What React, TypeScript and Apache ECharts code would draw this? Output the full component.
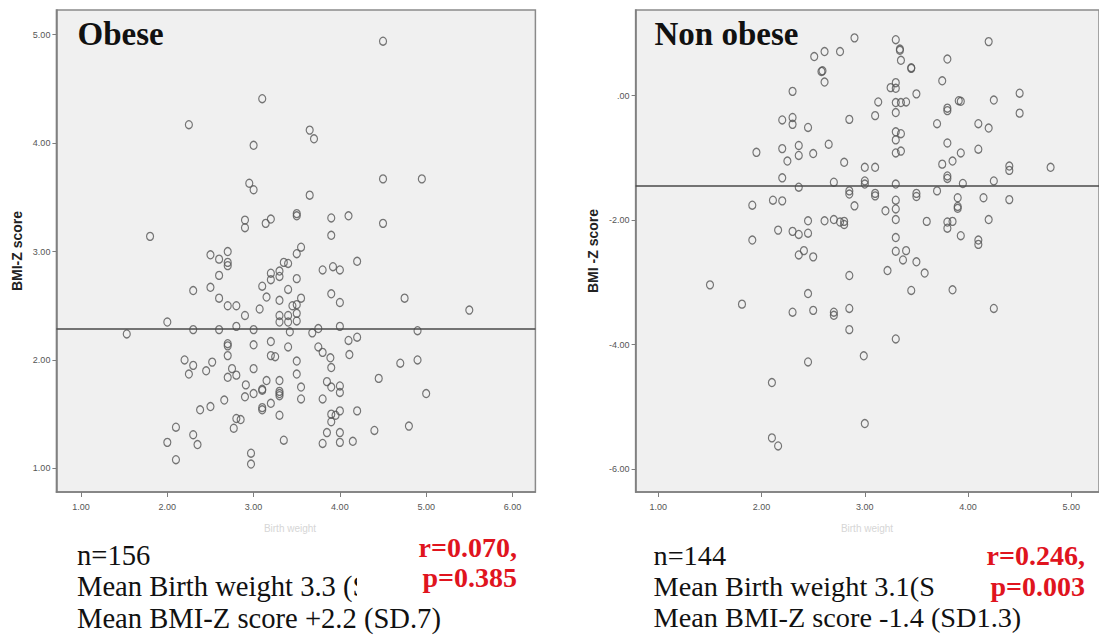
import React, { useEffect, useRef } from "react";
import * as echarts from "echarts";

// ---------- data ----------
const obesePoints: number[][] = [
  [4.50, 4.94], [3.10, 4.41], [2.25, 4.17], [3.65, 4.12], [3.70, 4.04], [3.00, 3.98], [4.50, 3.67], [4.95, 3.67],
  [2.95, 3.63], [3.00, 3.57], [3.65, 3.52], [3.50, 3.35], [3.50, 3.33], [3.90, 3.31], [4.10, 3.33], [3.20, 3.30],
  [3.14, 3.26], [2.90, 3.29], [2.90, 3.22], [4.50, 3.26], [1.80, 3.14], [3.90, 3.15], [3.55, 3.04], [3.50, 2.98],
  [2.70, 3.00], [2.50, 2.97], [2.60, 2.93], [2.70, 2.90], [2.70, 2.87], [3.35, 2.90], [3.40, 2.89], [4.20, 2.91],
  [3.80, 2.83], [3.92, 2.86], [4.00, 2.83], [2.60, 2.78], [3.20, 2.80], [3.20, 2.74], [3.30, 2.82], [3.30, 2.77],
  [3.50, 2.75], [3.10, 2.68], [3.40, 2.65], [2.50, 2.67], [2.30, 2.64], [3.90, 2.61], [3.15, 2.58], [2.60, 2.57],
  [3.55, 2.57], [4.00, 2.53], [4.75, 2.57], [3.30, 2.55], [2.70, 2.50], [2.80, 2.50], [3.07, 2.47], [3.45, 2.50],
  [3.50, 2.51], [2.90, 2.41], [5.50, 2.46], [3.30, 2.41], [3.40, 2.41], [3.30, 2.35], [3.40, 2.35], [3.50, 2.36],
  [3.50, 2.43], [2.00, 2.35], [1.53, 2.24], [2.30, 2.28], [2.60, 2.28], [2.80, 2.31], [3.00, 2.28], [3.42, 2.26],
  [3.68, 2.25], [3.75, 2.29], [4.00, 2.31], [4.90, 2.27], [2.70, 2.15], [2.70, 2.13], [3.00, 2.14], [3.20, 2.17],
  [3.40, 2.12], [3.75, 2.12], [3.80, 2.07], [3.89, 2.02], [4.10, 2.18], [4.20, 2.21], [4.11, 2.05], [3.20, 2.04],
  [3.25, 2.03], [2.70, 2.04], [2.20, 2.00], [2.30, 1.95], [2.25, 1.87], [2.45, 1.90], [2.52, 1.98], [2.75, 1.92],
  [2.70, 1.84], [2.80, 1.86], [3.00, 1.92], [3.50, 1.99], [3.50, 1.87], [3.90, 1.93], [3.15, 1.81], [3.30, 1.81],
  [2.91, 1.77], [3.55, 1.75], [3.85, 1.80], [3.90, 1.75], [4.00, 1.76], [4.00, 1.70], [3.10, 1.73], [3.10, 1.72],
  [3.30, 1.71], [3.30, 1.67], [3.30, 1.69], [4.70, 1.97], [4.90, 2.00], [4.45, 1.83], [5.00, 1.69], [2.66, 1.63],
  [2.90, 1.66], [3.00, 1.69], [3.55, 1.64], [3.80, 1.64], [3.20, 1.60], [3.10, 1.56], [3.10, 1.54], [2.50, 1.57],
  [2.38, 1.54], [3.30, 1.49], [3.90, 1.50], [3.95, 1.49], [4.00, 1.53], [4.20, 1.53], [3.90, 1.43], [2.80, 1.46],
  [2.85, 1.45], [2.77, 1.37], [2.10, 1.38], [2.30, 1.31], [2.35, 1.22], [2.00, 1.24], [2.10, 1.08], [2.97, 1.14],
  [2.97, 1.04], [3.35, 1.26], [3.80, 1.23], [3.85, 1.33], [4.00, 1.33], [4.00, 1.24], [4.15, 1.25], [4.40, 1.35],
  [4.80, 1.39],
];

const nonObesePoints: number[][] = [
  [2.90, 0.93], [3.30, 0.90], [4.20, 0.87], [2.51, 0.63], [2.61, 0.71], [2.76, 0.71], [3.34, 0.75], [3.34, 0.73],
  [3.35, 0.57], [3.80, 0.59], [3.45, 0.45], [3.45, 0.44], [2.58, 0.39], [2.59, 0.40], [2.61, 0.22], [3.75, 0.24],
  [2.30, 0.07], [3.25, 0.13], [3.30, 0.21], [3.30, 0.12], [3.50, 0.03], [4.50, 0.04], [4.25, -0.07], [3.91, -0.08],
  [3.93, -0.09], [3.13, -0.10], [3.30, -0.11], [3.35, -0.11], [3.40, -0.10], [3.10, -0.32], [3.30, -0.27], [2.85, -0.38],
  [3.80, -0.20], [3.80, -0.24], [4.50, -0.28], [2.20, -0.39], [2.30, -0.35], [2.30, -0.46], [2.45, -0.51], [3.70, -0.45],
  [4.10, -0.45], [4.20, -0.52], [3.30, -0.58], [3.35, -0.61], [3.30, -0.71], [2.65, -0.78], [3.80, -0.76], [4.10, -0.86],
  [1.95, -0.91], [2.20, -0.85], [2.36, -0.80], [2.36, -0.96], [2.50, -0.93], [2.25, -1.05], [3.30, -0.92], [3.35, -0.89],
  [3.93, -0.92], [3.85, -1.05], [2.80, -1.07], [3.00, -1.15], [3.10, -1.15], [3.75, -1.10], [3.80, -1.29], [3.80, -1.33],
  [4.40, -1.13], [4.40, -1.20], [4.80, -1.15], [2.20, -1.32], [2.70, -1.39], [3.00, -1.37], [3.00, -1.42], [3.30, -1.42],
  [4.25, -1.37], [3.95, -1.41], [2.36, -1.47], [2.85, -1.53], [2.85, -1.58], [3.10, -1.57], [3.10, -1.61], [3.50, -1.57],
  [3.50, -1.62], [3.70, -1.53], [3.90, -1.64], [3.90, -1.78], [3.90, -1.81], [4.15, -1.64], [4.40, -1.67], [2.11, -1.68],
  [2.20, -1.69], [1.91, -1.76], [2.90, -1.77], [3.30, -1.68], [3.30, -1.82], [3.20, -1.85], [2.45, -2.01], [2.61, -2.01],
  [2.70, -1.99], [2.76, -2.03], [2.80, -2.02], [2.80, -2.07], [3.30, -1.99], [3.60, -2.02], [3.80, -2.03], [3.85, -2.02],
  [3.80, -2.13], [4.20, -1.99], [2.16, -2.16], [2.30, -2.18], [2.36, -2.23], [2.45, -2.21], [1.91, -2.32], [3.30, -2.28],
  [3.93, -2.25], [4.10, -2.32], [4.10, -2.39], [3.30, -2.50], [3.40, -2.49], [2.41, -2.49], [2.36, -2.56], [2.50, -2.59],
  [3.37, -2.64], [3.50, -2.67], [3.58, -2.85], [3.22, -2.81], [2.85, -2.89], [1.50, -3.04], [2.45, -3.18], [3.45, -3.13],
  [3.85, -3.12], [1.81, -3.35], [2.30, -3.48], [2.50, -3.45], [2.70, -3.48], [2.70, -3.53], [2.85, -3.42], [4.25, -3.42],
  [2.85, -3.76], [3.30, -3.91], [2.99, -4.18], [2.45, -4.28], [2.10, -4.61], [3.00, -5.27], [2.10, -5.50], [2.16, -5.63],
];

const obeseMean = 2.295;
const nonObeseMean = -1.44;

const obeseXTicks = [1, 2, 3, 4, 5, 6];
const obeseXLabels = ["1.00", "2.00", "3.00", "4.00", "5.00", "6.00"];
const obeseYTicks = [1, 2, 3, 4, 5];
const obeseYLabels = ["1.00", "2.00", "3.00", "4.00", "5.00"];
const nonObeseXTicks = [1, 2, 3, 4, 5];
const nonObeseXLabels = ["1.00", "2.00", "3.00", "4.00", "5.00"];
const nonObeseYTicks = [-6, -4, -2, 0];
const nonObeseYLabels = ["-6.00", "-4.00", "-2.00", ".00"];

const panelTitles = ["Obese", "Non obese"];
const yAxisTitles = ["BMI-Z score", "BMI -Z score"];
const xAxisTitle = "Birth weight";
const obeseNotes = ["n=156", "Mean Birth weight 3.3 (S", "Mean BMI-Z score +2.2 (SD.7)"];
const obeseStats = ["r=0.070,", "p=0.385"];
const nonObeseNotes = ["n=144", "Mean Birth weight 3.1(S", "Mean BMI-Z score -1.4 (SD1.3)"];
const nonObeseStats = ["r=0.246,", "p=0.003"];

// ---------- helpers ----------
const labelFor = (ticks: number[], labels: string[]) => (v: number) => {
  const i = ticks.findIndex((t) => Math.abs(t - v) < 1e-6);
  return i >= 0 ? labels[i] : "";
};

const axisLineStyle = { color: "#7d7d7d", width: 1.5 };
const tickLabelStyle = { fontSize: 9, color: "#555", fontFamily: "Liberation Sans" };

function makeXAxis(gridIndex: number, min: number, max: number, ticks: number[], labels: string[]) {
  return {
    type: "value",
    gridIndex,
    min,
    max,
    splitLine: { show: false },
    axisLine: { show: true, onZero: false, lineStyle: axisLineStyle },
    axisTick: { show: true, customValues: ticks, length: 5, lineStyle: { color: "#7d7d7d", width: 1 } },
    axisLabel: { ...tickLabelStyle, customValues: ticks, margin: 10, formatter: labelFor(ticks, labels) },
  };
}

function makeYAxis(gridIndex: number, min: number, max: number, ticks: number[], labels: string[], name: string, nameGap: number) {
  return {
    type: "value",
    gridIndex,
    min,
    max,
    name,
    nameLocation: "middle",
    nameRotate: 90,
    nameGap,
    nameTextStyle: { fontSize: 14, fontWeight: "bold", color: "#222", fontFamily: "Liberation Sans" },
    splitLine: { show: false },
    axisLine: { show: true, onZero: false, lineStyle: axisLineStyle },
    axisTick: { show: true, customValues: ticks, length: 4, lineStyle: { color: "#7d7d7d", width: 1 } },
    axisLabel: { ...tickLabelStyle, customValues: ticks, margin: 6, formatter: labelFor(ticks, labels) },
  };
}

function scatterSeries(idx: number, data: number[][], mean: number) {
  return {
    type: "scatter",
    xAxisIndex: idx,
    yAxisIndex: idx,
    data,
    symbol: "circle",
    symbolSize: [7, 8],
    itemStyle: { color: "rgba(0,0,0,0)", borderColor: "#555555", borderWidth: 1.25 },
    silent: true,
    markLine: {
      silent: true,
      symbol: "none",
      label: { show: false },
      lineStyle: { type: "solid", color: "#4a4a4a", width: 1.5 },
      data: [{ yAxis: mean }],
    },
  };
}

const serif = "Liberation Serif";

function txt(text: string, x: number, y: number, size: number, opts: any = {}) {
  return {
    type: "text",
    x,
    y,
    z: 100,
    style: {
      text,
      fontSize: size,
      fontFamily: opts.family || serif,
      fontWeight: opts.weight || "normal",
      fill: opts.fill || "#111",
      align: opts.align || "left",
      verticalAlign: "middle",
    },
  };
}

export default function App() {
  const ref = useRef<HTMLDivElement>(null);
  useEffect(() => {
    if (!ref.current) return;
    const chart = echarts.init(ref.current, undefined, { renderer: "svg" });
    const red = "#e0141e";
    const option: any = {
      animation: false,
      backgroundColor: "#ffffff",
      grid: [
        { left: 56.4, top: 10, width: 479, height: 482, show: true, backgroundColor: "#f0f0f0", borderColor: "#8a8a8a", borderWidth: 1.5 },
        { left: 635.6, top: 10, width: 470, height: 482, show: true, backgroundColor: "#f0f0f0", borderColor: "#8a8a8a", borderWidth: 1.5 },
      ],
      xAxis: [
        makeXAxis(0, 0.7145, 6.266, obeseXTicks, obeseXLabels),
        makeXAxis(1, 0.7793, 5.269, nonObeseXTicks, nonObeseXLabels),
      ],
      yAxis: [
        makeYAxis(0, 0.782, 5.228, obeseYTicks, obeseYLabels, yAxisTitles[0], 32),
        makeYAxis(1, -6.37, 1.378, nonObeseYTicks, nonObeseYLabels, yAxisTitles[1], 36),
      ],
      series: [scatterSeries(0, obesePoints, obeseMean), scatterSeries(1, nonObesePoints, nonObeseMean)],
      graphic: [
        txt(panelTitles[0], 77.5, 34, 33, { weight: "bold" }),
        txt(panelTitles[1], 654.5, 34, 33, { weight: "bold" }),
        txt(xAxisTitle, 290, 528, 10, { family: "Liberation Sans", fill: "#d6d6d6", align: "center" }),
        txt(xAxisTitle, 867, 528, 10, { family: "Liberation Sans", fill: "#d6d6d6", align: "center" }),
        txt(obeseNotes[0], 77, 555, 28.6),
        txt(obeseNotes[1], 77, 586, 28.6),
        txt(obeseNotes[2], 77, 618, 28.6),
        { type: "rect", z: 101, shape: { x: 357, y: 570, width: 50, height: 32 }, style: { fill: "#ffffff" } },
        txt(obeseStats[0], 517, 547, 28, { weight: "bold", fill: red, align: "right" }),
        txt(obeseStats[1], 517, 577, 28, { weight: "bold", fill: red, align: "right" }),
        txt(nonObeseNotes[0], 653.5, 555, 28.3),
        txt(nonObeseNotes[1], 653.5, 586, 28.3),
        txt(nonObeseNotes[2], 653.5, 617, 28.3),
        { type: "rect", z: 101, shape: { x: 940, y: 570, width: 46, height: 32 }, style: { fill: "#ffffff" } },
        txt(nonObeseStats[0], 1085, 555, 28, { weight: "bold", fill: red, align: "right" }),
        txt(nonObeseStats[1], 1085, 586, 28, { weight: "bold", fill: red, align: "right" }),
      ],
    };
    chart.setOption(option);
    return () => chart.dispose();
  }, []);
  return (
    <div
      ref={ref}
      style={{ position: "absolute", left: 0, top: 0, width: 1099, height: 637, background: "#fff" }}
    />
  );
}
